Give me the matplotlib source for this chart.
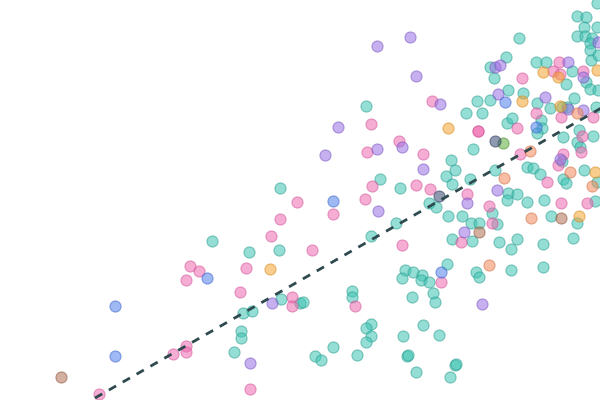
import matplotlib
matplotlib.use("Agg")
import matplotlib.pyplot as plt

# --- data (x, y); y axis runs downward ---
teal_x = [366, 380, 400, 280, 212, 249, 279, 243, 252, 281, 300, 241, 241, 234,
          396, 371, 429, 436, 448, 462, 405, 413, 422, 421, 429, 402, 447,
          352, 352, 303, 412, 433, 435, 476, 479, 371, 366, 371, 366, 357, 333,
          315, 321, 403, 423, 439, 407, 408, 455, 456, 416, 450,
          451, 455, 446, 452, 470, 473, 466, 482, 477, 490,
          507, 512, 541, 542, 537, 563, 579, 577, 580, 593,
          495, 527, 533, 540, 562, 563, 566, 584, 597,
          508, 517, 507, 527, 544, 595, 492, 497, 471, 479, 452, 472, 499, 517,
          511, 543, 573, 551, 577, 511, 543,
          537, 550, 562, 567, 596, 574,
          519, 506, 490, 494, 536, 546, 572, 566, 586, 590, 598,
          597, 577, 586, 584, 597, 577, 585, 592, 590, 590, 591, 598, 508, 523]
teal_y = [106, 179, 188, 188, 241, 252, 250, 313, 311, 299, 303, 331, 338, 352,
          223, 236, 203, 207, 216, 216, 270, 272, 275, 280, 282, 278, 264,
          291, 297, 302, 297, 293, 302, 272, 277, 324, 328, 336, 342, 355, 347,
          356, 360, 336, 325, 335, 356, 355, 365, 364, 372, 377,
          160, 170, 176, 184, 179, 149, 113, 113, 101, 100,
          123, 118, 120, 128, 133, 137, 130, 142, 147, 136,
          170, 167, 168, 174, 161, 179, 183, 170, 182,
          193, 194, 200, 202, 200, 201, 213, 224, 223, 223, 239, 241, 242, 239,
          249, 244, 238, 216, 223, 270, 267,
          103, 108, 107, 107, 107, 98,
          38, 57, 67, 78, 62, 62, 71, 84, 82, 89, 90,
          3, 16, 17, 27, 27, 36, 36, 38, 43, 50, 60, 55, 90, 93]

pink_x = [99, 173, 186, 186, 190, 199, 186, 246, 240, 292, 292, 250,
          432, 371, 399, 367, 423, 372, 416, 430, 297, 365, 333, 280, 271, 312,
          402, 355, 441, 489, 492, 461, 561, 587, 478, 478, 517, 536, 561, 593,
          582, 581, 520, 547, 563, 558, 467, 522, 553, 583, 559, 560]
pink_y = [394, 354, 346, 352, 266, 271, 280, 268, 292, 297, 306, 389,
          101, 124, 141, 152, 154, 186, 185, 189, 202, 199, 214, 219, 236, 250,
          245, 306, 282, 206, 223, 242, 203, 203, 131, 131, 128, 113, 117, 117,
          136, 152, 154, 182, 154, 165, 194, 78, 71, 71, 62, 74]

purple_x = [377, 410, 416, 338, 440, 325, 402, 377, 423, 378, 272, 250, 467,
            464, 482, 497, 495, 500, 498, 545, 568, 583, 560, 583, 568, 598]
purple_y = [46, 37, 76, 127, 104, 155, 147, 149, 169, 211, 303, 363, 203,
            232, 304, 190, 67, 65, 94, 97, 62, 77, 159, 110, 109, 42]

blue_x = [115, 115, 207, 333, 441, 505, 536]
blue_y = [306, 356, 278, 201, 272, 102, 127]

orange_x = [270, 448, 522, 543, 558, 597, 560, 579, 595]
orange_y = [269, 128, 101, 72, 77, 70, 106, 216, 172]

salmon_x = [531, 489, 530, 504, 570, 577, 592]
salmon_y = [218, 265, 151, 178, 172, 113, 186]

brown_x = [61, 561, 479]
brown_y = [377, 218, 232]

green_x = [503]
green_y = [143]

slate_x = [439, 495]
slate_y = [196, 141]

trend_x = [95, 610]
trend_y = [398, 103]

series = [
    (teal_x, teal_y, "#3fc4b4", "#2a9d90"),
    (pink_x, pink_y, "#ef6bb0", "#d0559a"),
    (purple_x, purple_y, "#9a70e2", "#7a55c0"),
    (blue_x, blue_y, "#5080ee", "#3a62c8"),
    (orange_x, orange_y, "#f5a431", "#d88a20"),
    (salmon_x, salmon_y, "#f28a5c", "#d07048"),
    (brown_x, brown_y, "#b07052", "#8a5238"),
    (green_x, green_y, "#5aad3a", "#448a2a"),
    (slate_x, slate_y, "#34456e", "#283658"),
]

plt.rcParams["lines.scale_dashes"] = False
fig = plt.figure(figsize=(6, 4), dpi=100)
ax = fig.add_axes([0, 0, 1, 1])
for xs, ys, fc, ec in series:
    ax.scatter(xs, ys, s=64, c=fc, edgecolors=ec, linewidths=0.8, alpha=0.55, zorder=2)
ax.plot(trend_x, trend_y, color="#2f4a4f", lw=2.0, dashes=[6, 5.5], zorder=3)
ax.set_xlim(0, 600)
ax.set_ylim(400, 0)
ax.axis("off")
fig.savefig("out.png", dpi=100, facecolor="white")
